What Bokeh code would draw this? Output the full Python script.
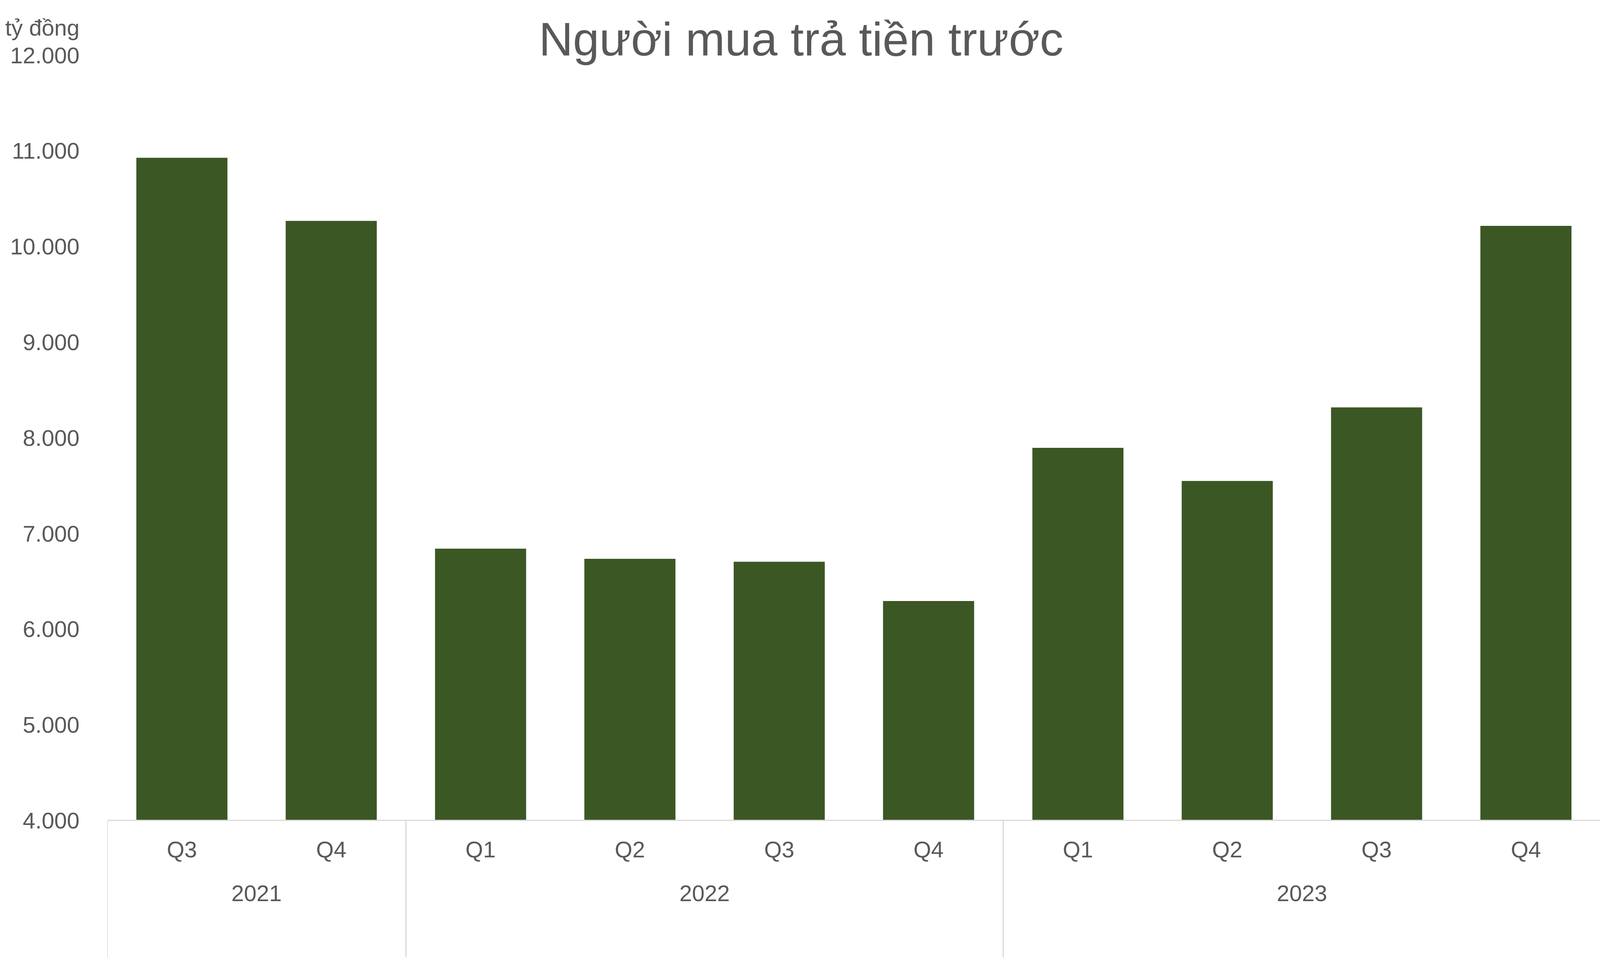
from bokeh.plotting import figure
from bokeh.models import FactorRange, Range1d, FixedTicker, Span
from bokeh.core.properties import value
from bokeh.embed import file_html
from bokeh.resources import INLINE

# ---- data ----
years = ["2021", "2021", "2022", "2022", "2022", "2022", "2023", "2023", "2023", "2023"]
quarters = ["Q3", "Q4", "Q1", "Q2", "Q3", "Q4", "Q1", "Q2", "Q3", "Q4"]
values = [10927, 10268, 6841, 6734, 6704, 6293, 7895, 7549, 8318, 10215]
y_ticks = [4000, 5000, 6000, 7000, 8000, 9000, 10000, 11000, 12000]
y_tick_labels = ["4.000", "5.000", "6.000", "7.000", "8.000", "9.000", "10.000", "11.000", "12.000"]
title_text = "Người mua trả tiền trước"
unit_text = "tỷ đồng"

# ---- layout (CSS pixels) ----
W, H = 4097, 2450
LEFT = 274
PX_PER_UNIT = 0.244763      # vertical pixels per data unit
TOP_PX = 140.7              # pixel row of the 12000 level inside the figure
BASE = 4000
FONT = "Liberation Sans"
TXT = "#595959"
GRID = "#D9D9D9"
BAR = "#3B5724"

upp = 1.0 / PX_PER_UNIT
Y_END = 12000 + TOP_PX * upp
Y_START = Y_END - H * upp
cat_w = (W - LEFT) / len(quarters)

factors = list(zip(years, quarters))
unique_years = list(dict.fromkeys(years))

p = figure(width=W, height=H,
           x_range=FactorRange(factors=factors, factor_padding=0, group_padding=0,
                               subgroup_padding=0, range_padding=0),
           y_range=Range1d(Y_START, Y_END),
           output_backend="svg", toolbar_location=None, x_axis_location=None,
           min_border_left=LEFT, min_border_right=0, min_border_top=0, min_border_bottom=0,
           outline_line_color=None, background_fill_color="white", border_fill_color="white")
p.grid.visible = False

# y axis: numeric ticks plus the unit caption above the top tick
unit_pos = 12000 + 71 * upp
yax = p.yaxis[0]
yax.ticker = FixedTicker(ticks=y_ticks + [unit_pos])
overrides = dict(zip(y_ticks, y_tick_labels))
overrides[unit_pos] = unit_text
yax.major_label_overrides = overrides
yax.axis_line_color = None
yax.major_tick_line_color = None
yax.minor_tick_line_color = None
yax.major_tick_in = 0
yax.major_tick_out = 0
yax.major_label_standoff = 71
yax.major_label_text_font = FONT
yax.major_label_text_font_size = "58px"
yax.major_label_text_color = TXT

# bars
p.vbar(x=factors, top=values, bottom=BASE, width=0.61, fill_color=BAR, line_color=None)

# x axis line
p.add_layout(Span(location=BASE, dimension="width", line_color=GRID, line_width=3))

# group separators
seps = []
for y in unique_years:
    i = years.index(y)
    seps.append((years[i], quarters[i], -0.5))
seps.append((years[-1], quarters[-1], 0.5))
p.segment(x0=seps, x1=seps, y0=[BASE] * len(seps), y1=[Y_START] * len(seps),
          line_color=GRID, line_width=3)

# quarter labels
p.text(x=factors, y=[BASE - 74.6 * upp] * len(factors), text=quarters,
       text_align="center", text_baseline="middle",
       text_font=value(FONT), text_font_size="58px", text_color=TXT)

# year labels
p.text(x=unique_years, y=[BASE - 186.4 * upp] * len(unique_years), text=unique_years,
       text_align="center", text_baseline="middle",
       text_font=value(FONT), text_font_size="58px", text_color=TXT)

# title (centred on the page)
title_x = (2050.4 - LEFT) / cat_w
p.text(x=[title_x], y=[12000 + 41 * upp], text=[title_text],
       text_align="center", text_baseline="middle",
       text_font=value(FONT), text_font_size="121px", text_color=TXT)

open("out.html", "w").write(file_html(p, INLINE))
